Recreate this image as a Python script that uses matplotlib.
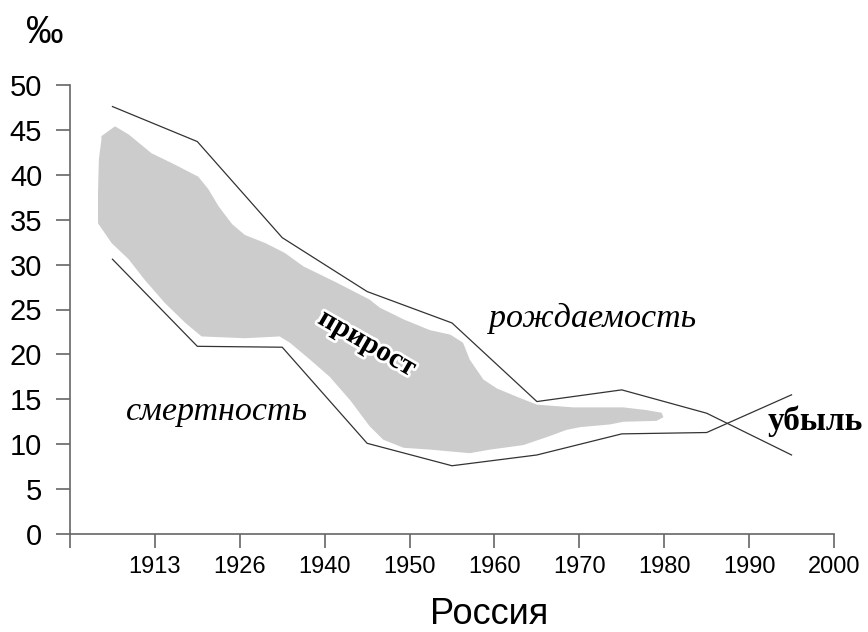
import numpy as np
import matplotlib
matplotlib.use('Agg')
import matplotlib.pyplot as plt
import matplotlib.patheffects as pe

# ______ data ______
years = ['1913', '1926', '1940', '1950', '1960', '1970', '1980', '1990', '2000']
pos = np.arange(9) + 0.5          # one point per category, between ticks
birth = [47.6, 43.7, 33.0, 27.0, 23.5, 14.75, 16.05, 13.45, 8.8]
death = [30.6, 20.9, 20.8, 10.1, 7.6, 8.8, 11.15, 11.3, 15.5]

# hand-drawn "natural increase" region (outline, data units)
blob_x = [0.37, 0.37, 0.53, 0.69, 0.96, 1.20, 1.51, 1.63, 1.75, 1.91, 2.06, 2.30,
          2.53, 2.75, 3.14, 3.53, 3.65, 3.93, 4.24, 4.48, 4.63, 4.71, 4.87, 5.03,
          5.26, 5.50, 5.93, 6.52, 6.79, 6.97, 6.99, 6.91, 6.52, 6.36, 6.01, 5.85,
          5.65, 5.34, 4.95, 4.71, 4.24, 3.93, 3.69, 3.53, 3.30, 3.06, 2.83, 2.59,
          2.47, 2.06, 1.55, 1.36, 1.12, 0.88, 0.69, 0.49, 0.33, 0.33, 0.34]
blob_y = [43.9, 44.3, 45.4, 44.5, 42.4, 41.3, 39.8, 38.4, 36.5, 34.5, 33.3, 32.4,
          31.3, 29.8, 28.0, 26.1, 25.2, 23.9, 22.7, 22.2, 21.3, 19.4, 17.2, 16.2,
          15.3, 14.4, 14.1, 14.1, 13.8, 13.5, 13.0, 12.6, 12.5, 12.2, 11.9, 11.6,
          10.9, 9.9, 9.4, 9.0, 9.4, 9.6, 10.5, 12.0, 14.9, 17.5, 19.4, 21.3,
          22.0, 21.8, 22.0, 23.5, 25.7, 28.3, 30.6, 32.4, 34.6, 38.0, 41.7]

# ______ plot ______
W, H = 868, 632
fig = plt.figure(figsize=(W / 100, H / 100), dpi=100)
ax = fig.add_axes([70 / W, 1 - 534 / H, 764 / W, 449 / H])

ax.fill(blob_x, blob_y, color='#cccccc', lw=0)
ax.plot(pos, birth, color='#333333', lw=0.9)
ax.plot(pos, death, color='#333333', lw=0.9)

ax.set_xlim(0, 9)
ax.set_ylim(0, 50)
ax.set_xticks(np.arange(10))
ax.set_xticklabels([''] + years, fontsize=17, family='Liberation Sans')
ax.set_yticks(np.arange(0, 51, 5))
ax.set_yticklabels([str(v) for v in range(0, 51, 5)], fontsize=21, family='Liberation Sans')
ax.tick_params(axis='x', length=10, width=1.2, color='#666666', pad=6)
ax.tick_params(axis='y', length=10, width=1.2, color='#666666', pad=10)
for s in ['top', 'right']:
    ax.spines[s].set_visible(False)
for s in ['left', 'bottom']:
    ax.spines[s].set_color('#666666')
    ax.spines[s].set_linewidth(1.2)


def put(x, y, s, **kw):
    # place text by pixel position measured from the top-left corner
    fig.text(x / W, 1 - y / H, s, ha='center', va='center', **kw)


serif = 'Liberation Serif'
put(593, 318, 'рождаемость', fontsize=24.5, style='italic', family=serif)
put(217, 412, 'смертность', fontsize=24.5, style='italic', family=serif)
put(815, 421, 'убыль', fontsize=24, weight='bold', family=serif)
put(367, 343, 'прирост', fontsize=21, weight='bold', family=serif, rotation=-30,
    path_effects=[pe.withStroke(linewidth=4, foreground='white')])

put(45, 33, '‰', fontsize=27, family='Liberation Sans')
fig.text(489 / W, 1 - 624 / H, 'Россия', fontsize=26, family='Liberation Sans',
         ha='center', va='baseline')

fig.savefig('out.png', dpi=100)
